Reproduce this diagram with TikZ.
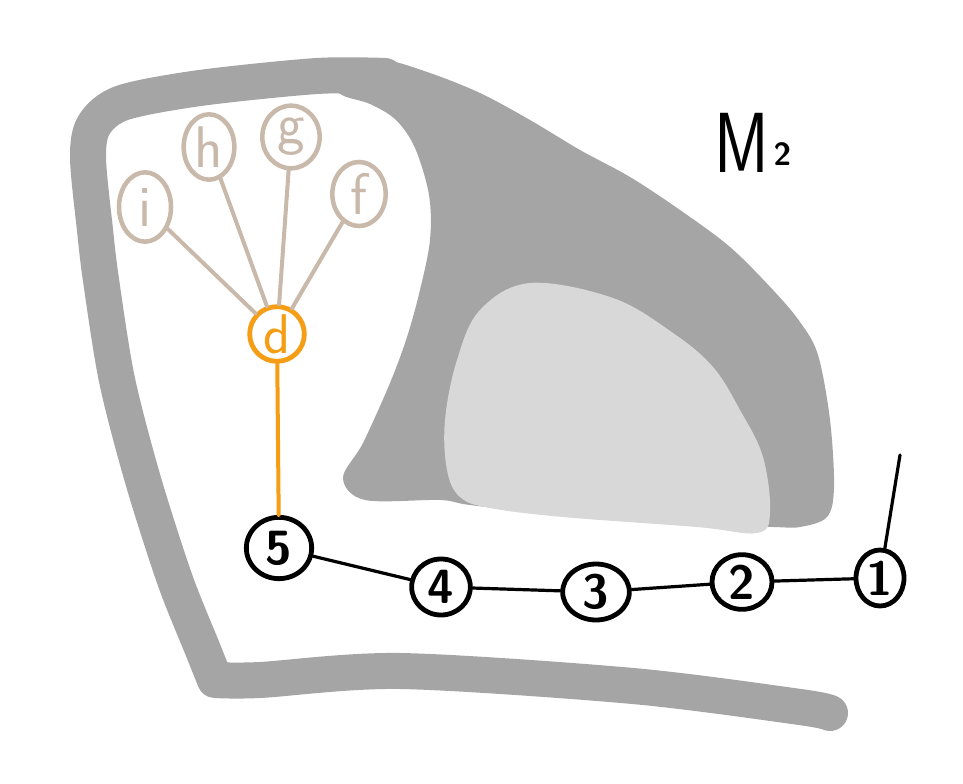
\documentclass[tikz,border=0pt]{standalone}
\usetikzlibrary{shapes.geometric}
\definecolor{darkg}{RGB}{165,165,165}
\definecolor{lightg}{RGB}{216,216,216}
\definecolor{tan}{RGB}{200,185,170}
\definecolor{orng}{RGB}{245,157,20}
\begin{document}
\begin{tikzpicture}[x=0.75pt,y=-0.75pt,
  tannode/.style={draw=tan,line width=3.4pt,ellipse,inner sep=0pt,text=tan,font=\sffamily\fontsize{44}{48}\selectfont},
  blknode/.style={draw=black,line width=3.6pt,ellipse,inner sep=0pt,font=\sffamily\bfseries\fontsize{36}{40}\selectfont},
  tanedge/.style={draw=tan,line width=3pt,line cap=round},
  blkedge/.style={draw=black,line width=2.4pt,line cap=round},
  oredge/.style={draw=orng,line width=3pt,line cap=round}]
\useasboundingbox (0,0) rectangle (963,784);
\fill[white] (0,0) rectangle (963,784);
% dark gray mass
\fill[darkg] plot[smooth cycle,tension=0.55] coordinates {
 (385,60) (430,73) (480,93) (530,120) (580,150) (630,177) (680,210) (730,247) (773,290) (800,322) (818,355)
 (830,420) (834,487) (827,517) (800,527) (773,527) (700,525) (560,515) (470,505) (440,500) (365,500) (343,478)
 (363,443) (390,383) (407,337) (420,290) (430,240) (429,195) (415,148) (396,120) (370,104) (342,95) (325,78) (350,64)};
% light gray blob
\fill[lightg] plot[smooth cycle,tension=0.6] coordinates {
 (445,420) (457,360) (480,310) (530,283) (613,298) (673,333) (713,367) (740,410) (763,457) (770,513) (757,533)
 (697,527) (563,517) (490,508) (460,497) (447,470)};
% frame stroke
\draw[darkg,line width=27pt,line cap=round,line join=round]
 plot[smooth,tension=0.5] coordinates {(385,76) (317,76) (200,88) (122,103) (94,125) (88,158) (95,230) (101,280) (117,380) (143,480) (175,580) (203,650) (215,680)}
 -- plot[smooth,tension=0.5] coordinates {(215,680) (260,680) (400,671) (633,686) (800,707) (830,713)};
% nodes
\node[tannode,minimum width=39pt,minimum height=52pt] (i) at (145,207) {i};
\node[tannode,minimum width=38pt,minimum height=49pt] (h) at (209,147) {h};
\node[tannode,minimum width=43pt,minimum height=47pt] (g) at (291,137) {g};
\node[tannode,minimum width=40pt,minimum height=48pt] (f) at (359,194) {f};
\node[draw=orng,line width=3.6pt,circle,inner sep=0pt,minimum size=41pt,text=orng,font=\sffamily\fontsize{42}{46}\selectfont] (d) at (277,334) {d};
\node[blknode,minimum width=49pt,minimum height=46pt] (n5) at (279,548) {5};
\node[blknode,minimum width=44pt,minimum height=42pt] (n4) at (441,587) {4};
\node[blknode,minimum width=50pt,minimum height=42pt] (n3) at (596,592) {3};
\node[blknode,minimum width=45pt,minimum height=41pt] (n2) at (742,582) {2};
\node[blknode,minimum width=36pt,minimum height=42pt] (n1) at (880,578) {1};
\coordinate (top1) at (900,455);
% edges
\draw[tanedge] (i) -- (d);
\draw[tanedge] (h) -- (d);
\draw[tanedge] (g) -- (d);
\draw[tanedge] (f) -- (d);
\draw[oredge] (d) -- (n5);
\draw[blkedge] (n5) -- (n4);
\draw[blkedge] (n4) -- (n3);
\draw[blkedge] (n3) -- (n2);
\draw[blkedge] (n2) -- (n1);
\draw[blkedge] (n1) -- (top1);
% label
\node[font=\sffamily\fontsize{64}{68}\selectfont,inner sep=0pt] (m2) at (753,143) {\scalebox{0.78}[1]{M}\hspace{3pt}\raisebox{5pt}{\fontsize{24}{26}\selectfont\bfseries 2}};
\end{tikzpicture}
\end{document}
